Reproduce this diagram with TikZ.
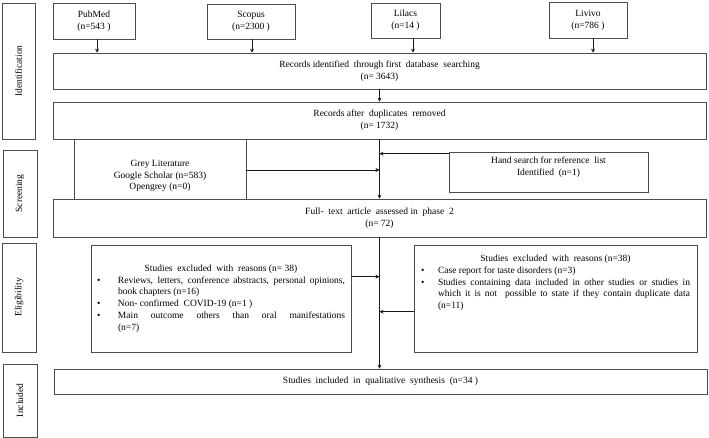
\documentclass[tikz,border=0pt]{standalone}
\usepackage{fontspec}
\setmainfont{Liberation Serif}
\usetikzlibrary{arrows.meta,calc}
\newcommand{\bitem}[2]{\par\noindent\hangindent=#1\hangafter=1\makebox[#1][l]{\textbullet}#2}
\begin{document}
\begin{tikzpicture}[x=1pt,y=-1pt,
  font=\fontsize{9.5}{11.8}\selectfont,
  box/.style={draw=black!70, line width=0.7pt, inner sep=0pt, align=center},
  side/.style={box, minimum width=#1},
  txt/.style={inner sep=0pt, align=center},
  arr/.style={line width=0.8pt, draw=black!90, -{Stealth[length=4pt,width=4pt]}},
  ln/.style={line width=0.8pt, draw=black!90}]
\useasboundingbox (0,0) rectangle (709,438);
% side labels
\node[box, minimum width=33, minimum height=136] (ident) at (18.5,71) {};
\node[txt, rotate=90] at (ident.center) {Identification};
\node[box, minimum width=34, minimum height=87] (screen) at (20,193.5) {};
\node[txt, rotate=90] at (screen.center) {Screening};
\node[box, minimum width=34, minimum height=109] (elig) at (19,297.5) {};
\node[txt, rotate=90] at (elig.center) {Eligibility};
\node[box, minimum width=34, minimum height=73] (incl) at (20,400.5) {};
\node[txt, rotate=90] at (incl.center) {Included};
% databases
\node[box, minimum width=82, minimum height=36] (pubmed) at (94,21) {PubMed\\(n=543 )};
\node[box, minimum width=88, minimum height=35] (scopus) at (251,21.5) {Scopus\\(n=2300 )};
\node[box, minimum width=69, minimum height=35] (lilacs) at (405.5,20.5) {Lilacs\\(n=14 )};
\node[box, minimum width=78, minimum height=36] (livivo) at (588,20) {Livivo\\(n=786 )};
% main boxes
\node[box, minimum width=653, minimum height=36] (rec1) at (379.5,71) {Records identified \ through first \ database \ searching\\(n= 3643)};
\node[box, minimum width=653, minimum height=37] (rec2) at (379.5,120.5) {Records after \ duplicates \ removed\\(n= 1732)};
\node[box, minimum width=172, minimum height=60] (grey) at (160,169) {};
\node[txt] at ([yshift=-7pt]grey.center) {Grey Literature\\Google Scholar (n=583)\\Opengrey (n=0)};
\node[box, minimum width=199, minimum height=40] (hand) at (548.5,172) {};
\node[txt] at ([yshift=4.5pt]hand.center) {Hand search for reference \ list\\Identified \ (n=1)};
\node[box, minimum width=653, minimum height=38] (full) at (379.5,218) {Full- \ text \ article \ assessed in \ phase \ 2\\(n= 72)};
\node[box, minimum width=260, minimum height=107, text width=248, align=justify] (exl) at (221,298.5) {%
\noindent\makebox[\linewidth]{Studies \ excluded \ with \ reasons (n= 38)}%
\bitem{21pt}{Reviews, letters, conference abstracts, personal opinions, book chapters (n=16)}%
\bitem{21pt}{Non- confirmed \ COVID-19 (n=1 )}%
\bitem{21pt}{Main outcome others than oral manifestations\linebreak (n=7)}\par};
\node[box, minimum width=283, minimum height=107] (exr) at (555.5,298.5) {};
\node[inner sep=0pt, text width=269, align=justify, anchor=north] at ([yshift=-10pt]exr.north) {%
\noindent\makebox[\linewidth]{Studies \ excluded \ with \ reasons (n=38)}%
\bitem{17pt}{Case report for taste disorders (n=3)}%
\bitem{17pt}{Studies containing data included in other studies or studies in\linebreak which it is not \ possible to state if they contain duplicate data\linebreak (n=11)}\par};
\node[box, minimum width=653, minimum height=25] (final) at (380.5,381.5) {Studies \ included \ in \ qualitative \ synthesis \ (n=34 )};
% connectors
\draw[arr] ([xshift=3pt]pubmed.south) -- ([xshift=3pt]pubmed.south |- rec1.north);
\draw[arr] ([xshift=1pt]scopus.south) -- ([xshift=1pt]scopus.south |- rec1.north);
\draw[arr] ([xshift=7.5pt]lilacs.south) -- ([xshift=7.5pt]lilacs.south |- rec1.north);
\draw[arr] ([xshift=5pt]livivo.south) -- ([xshift=5pt]livivo.south |- rec1.north);
\draw[arr] (rec1.south) -- (rec2.north);
\draw[arr] (rec2.south) -- (full.north);
\draw[arr] (full.south) -- (full.south |- final.north);
\coordinate (hstart) at ($(hand.north west)+(0,2)$);
\draw[arr] (hstart) -- (hstart -| rec2.south);
\draw[arr] ([yshift=-1pt]grey.east) -- ([yshift=-1pt]grey.east -| rec2.south);
\coordinate (lstart) at ($(exl.north east)+(0,32)$);
\draw[arr] (lstart) -- (lstart -| full.south);
\coordinate (rstart) at ($(exr.north west)+(0,67)$);
\draw[arr] (rstart) -- (rstart -| full.south);
\end{tikzpicture}
\end{document}
